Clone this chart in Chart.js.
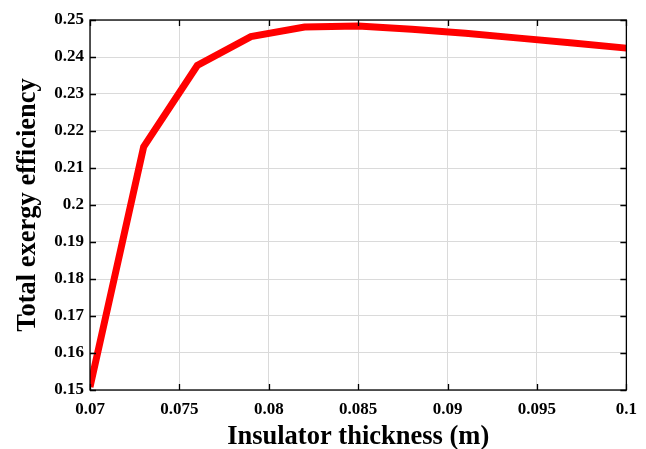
<!DOCTYPE html>
<html>
<head>
<meta charset="utf-8">
<script src="https://cdn.jsdelivr.net/npm/chart.js@4.4.0/dist/chart.umd.min.js"></script>
<style>
  html, body { margin: 0; padding: 0; background: #fff; }
  #wrap { width: 646px; height: 449px; }
</style>
</head>
<body>
<div id="wrap"><canvas id="chart"></canvas></div>
<script>
// insulator thickness (m) vs total exergy efficiency
const thickness = [0.07, 0.073, 0.076, 0.079, 0.082, 0.085, 0.088, 0.091, 0.094, 0.097, 0.1];
const efficiency = [0.1508, 0.2157, 0.2377, 0.2455, 0.2481, 0.2484, 0.2475, 0.2464, 0.2451, 0.2438, 0.2424];

const xTicks = [0.07, 0.075, 0.08, 0.085, 0.09, 0.095, 0.1];
const yTicks = [0.15, 0.16, 0.17, 0.18, 0.19, 0.2, 0.21, 0.22, 0.23, 0.24, 0.25];

const serif = "'Liberation Serif', 'Times New Roman', serif";

// box around the plot with short ticks pointing inward on every side
const boxTicks = {
  id: "boxTicks",
  afterDatasetsDraw(chart) {
    const { ctx, chartArea: a, scales } = chart;
    const len = 6;
    ctx.save();
    ctx.strokeStyle = "#000";
    ctx.lineWidth = 1.3;
    ctx.beginPath();
    xTicks.forEach(v => {
      const px = Math.round(scales.x.getPixelForValue(v)) + 0.5;
      ctx.moveTo(px, a.bottom); ctx.lineTo(px, a.bottom - len);
      ctx.moveTo(px, a.top); ctx.lineTo(px, a.top + len);
    });
    yTicks.forEach(v => {
      const py = Math.round(scales.y.getPixelForValue(v)) + 0.5;
      ctx.moveTo(a.left, py); ctx.lineTo(a.left + len, py);
      ctx.moveTo(a.right, py); ctx.lineTo(a.right - len, py);
    });
    ctx.stroke();
    ctx.strokeRect(a.left, a.top, a.right - a.left, a.bottom - a.top);
    ctx.restore();
  }
};

new Chart(document.getElementById("chart"), {
  type: "line",
  data: {
    datasets: [{
      data: thickness.map((t, i) => ({ x: t, y: efficiency[i] })),
      borderColor: "#ff0000",
      borderWidth: 7,
      pointRadius: 0,
      tension: 0,
      fill: false
    }]
  },
  options: {
    responsive: true,
    maintainAspectRatio: false,
    animation: false,
    layout: { padding: { top: 20, right: 19, left: 0, bottom: 0 } },
    plugins: { legend: { display: false }, tooltip: { enabled: false } },
    scales: {
      x: {
        type: "linear",
        min: 0.07,
        max: 0.1,
        afterBuildTicks: s => { s.ticks = xTicks.map(v => ({ value: v })); },
        afterFit: s => { s.height = 59; },
        grid: { color: "#dadada", lineWidth: 1, drawTicks: false },
        border: { display: false },
        ticks: {
          padding: 9,
          color: "#000",
          font: { family: serif, size: 17, weight: "bold" },
          callback: v => String(+v.toFixed(3))
        },
        title: {
          display: true,
          text: "Insulator thickness (m)",
          color: "#000",
          font: { family: serif, size: 26.5, weight: "bold", lineHeight: 1 },
          padding: { top: 0, bottom: -1.5 }
        }
      },
      y: {
        type: "linear",
        min: 0.15,
        max: 0.25,
        afterBuildTicks: s => { s.ticks = yTicks.map(v => ({ value: v })); },
        afterFit: s => { s.width = 90; },
        grid: { color: "#dadada", lineWidth: 1, drawTicks: false },
        border: { display: false },
        ticks: {
          padding: 6,
          color: "#000",
          font: { family: serif, size: 17, weight: "bold" },
          callback: v => String(+v.toFixed(2))
        },
        title: {
          display: true,
          text: "Total exergy efficiency",
          color: "#000",
          font: { family: serif, size: 26.5, weight: "bold" },
          padding: { top: 12, bottom: 0 }
        }
      }
    }
  },
  plugins: [boxTicks]
});
</script>
</body>
</html>
